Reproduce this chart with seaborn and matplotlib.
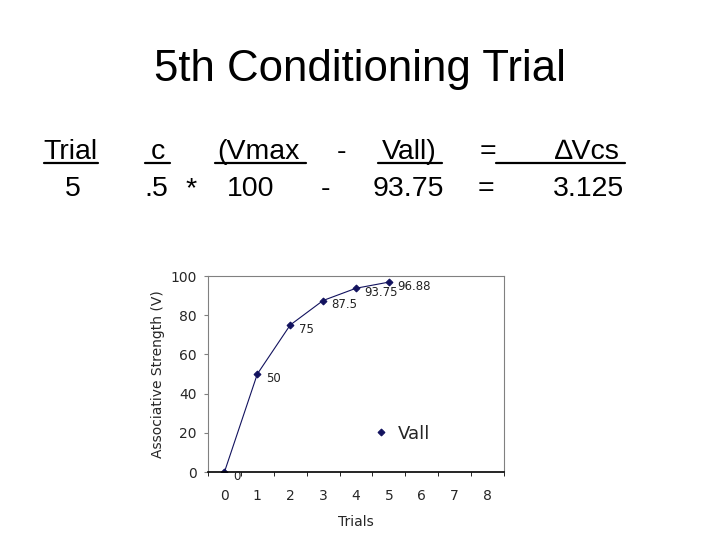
import matplotlib
matplotlib.use("Agg")
import matplotlib.pyplot as plt
import seaborn as sns
import pandas as pd

# slide text
title = "5th Conditioning Trial"
header = ["Trial", "c", "(Vmax", "-", "Vall)", "=", "\u2206Vcs"]
row = ["5", ".5", "*", "100", "-", "93.75", "=", "3.125"]

# chart data
trials = [0, 1, 2, 3, 4, 5]
vall = [0, 50, 75, 87.5, 93.75, 96.88]
point_labels = ["0", "50", "75", "87.5", "93.75", "96.88"]
x_ticks = [0, 1, 2, 3, 4, 5, 6, 7, 8]
y_ticks = [0, 20, 40, 60, 80, 100]

df = pd.DataFrame({"Trials": trials, "Vall": vall})

sns.set_style("white")
plt.rcParams['font.family'] = ['DejaVu Sans']

fig = plt.figure(figsize=(7.2, 5.4), dpi=100)
W, H = 720, 540

def fx(px):
  return px / W

def fy(py):
  return 1 - py / H

arial = ['Liberation Sans', 'DejaVu Sans']

# === Title ===
fig.text(fx(360), fy(69), title, family=arial, fontsize=31.5,
         ha='center', va='center', color='black')

# === Formula rows ===
hdr_pos = [(70, header[0]), (158, header[1]), (258, header[2]), (342, header[3]),
           (409, header[4]), (488, header[5]), (587, header[6])]
for x, s in hdr_pos:
  fig.text(fx(x), fy(159), s, family=arial, fontsize=20.5, ha='center',
           va='baseline', color='black')

row_pos = [(73, row[0]), (156, row[1]), (191, row[2]), (251, row[3]),
           (325, row[4]), (408, row[5]), (486, row[6]), (589, row[7])]
for x, s in row_pos:
  fig.text(fx(x), fy(196), s, family=arial, fontsize=20.5, ha='center',
           va='baseline', color='black')

# underlines
for x0, x1 in [(44, 98), (145, 170), (215, 306), (378, 442), (496, 625)]:
  fig.add_artist(plt.Line2D([fx(x0), fx(x1)], [fy(163), fy(163)],
                            color='black', lw=1.6))

# === Chart ===
ax = fig.add_axes([fx(208), fy(472), (504 - 208) / W, (472 - 276) / H])
navy = '#12125e'
sns.lineplot(data=df, x='Trials', y='Vall', ax=ax, color=navy, lw=0.8,
             marker='D', markersize=3.5, markeredgecolor=navy, label='Vall')

for x, y, s in zip(trials, vall, point_labels):
  ax.annotate(s, (x, y), xytext=(6, -3), textcoords='offset points',
              fontsize=8.5, ha='left', va='center', color='#222222')

ax.set_xlim(-0.5, 8.5)
ax.set_ylim(0, 100)
ax.set_xticks(x_ticks)
ax.set_yticks(y_ticks)
ax.set_xticks([k + 0.5 for k in range(-1, 9)], minor=True)
ax.tick_params(axis='x', which='major', length=0, labelsize=10, pad=12)
ax.tick_params(axis='x', which='minor', length=3, direction='out',
               color='black', bottom=True)
ax.tick_params(axis='y', length=3, direction='out', color='gray', left=True,
               labelsize=10, pad=5)
ax.set_xlabel('Trials', fontsize=10, labelpad=9)
ax.set_ylabel('Associative Strength (V)', fontsize=10, labelpad=4)

for side in ['top', 'right', 'left']:
  ax.spines[side].set_visible(True)
  ax.spines[side].set_color('gray')
  ax.spines[side].set_linewidth(0.8)
ax.spines['bottom'].set_color('black')
ax.spines['bottom'].set_linewidth(1.2)

leg = ax.legend(loc='center left', bbox_to_anchor=(0.5, 0.195), frameon=False,
                fontsize=13, handlelength=1.0, handletextpad=0.4)
for h in leg.legend_handles:
  h.set_linestyle('none')

fig.savefig('out.png', dpi=100)
